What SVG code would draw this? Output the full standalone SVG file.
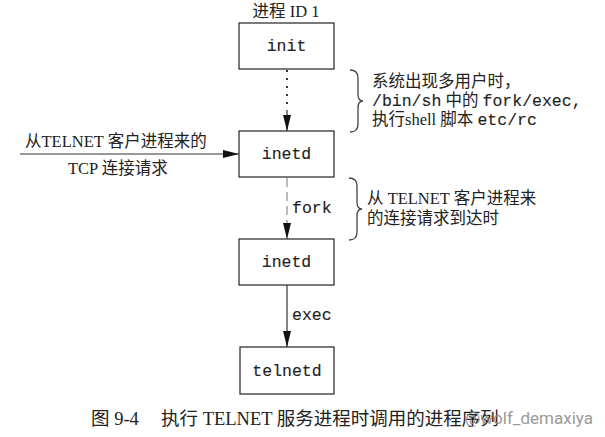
<svg xmlns="http://www.w3.org/2000/svg" width="605" height="437" viewBox="0 0 605 437">
<style>
.box{fill:#fff;stroke:#333;stroke-width:1.3}
.mono{font-family:"Liberation Mono","DejaVu Sans Mono",monospace;font-size:16.5px;fill:#222;stroke:#222;stroke-width:0.12}
.txt{font-family:"Liberation Serif","Noto Sans CJK SC",serif;font-size:16.5px;fill:#222}
.cap{font-family:"Liberation Serif","Noto Sans CJK SC",serif;font-size:18.5px;fill:#222}
.ln{stroke:#333;stroke-width:1.2;fill:none}
.brace{stroke:#444;stroke-width:1.3;fill:none}
</style>
<defs>
<marker id="ahv" markerWidth="16" markerHeight="8" refX="16" refY="4" orient="auto" markerUnits="userSpaceOnUse" viewBox="0 0 16 8" preserveAspectRatio="none">
<path d="M0,0 L16,4 L0,8 Z" fill="#111"/>
</marker>
</defs>
<text class="txt" x="286" y="17" text-anchor="middle">进程 ID 1</text>
<g id="connectors">
<line x1="287" y1="70" x2="287" y2="108" stroke="#333" stroke-width="2" stroke-dasharray="2 6"/>
<line x1="287" y1="110" x2="287" y2="131" class="ln" marker-end="url(#ahv)"/>
<line x1="287" y1="178" x2="287" y2="239" stroke="#777" stroke-width="1" stroke-dasharray="9 5" marker-end="url(#ahv)"/>
<line x1="287" y1="285" x2="287" y2="347" class="ln" marker-end="url(#ahv)"/>
<line x1="20" y1="154" x2="239" y2="154" class="ln" marker-end="url(#ahv)"/>
<text class="mono" x="292" y="213">fork</text>
<text class="mono" x="292" y="320">exec</text>
<text class="txt" x="25" y="147">从TELNET 客户进程来的</text>
<text class="txt" x="68" y="174">TCP 连接请求</text>
</g>
<g id="init">
<rect class="box" x="239" y="23" width="95" height="46"/>
<text class="mono" x="286.5" y="51" text-anchor="middle">init</text>
</g>
<g id="inetd1">
<rect class="box" x="239" y="131" width="95" height="46"/>
<text class="mono" x="286.5" y="159" text-anchor="middle">inetd</text>
</g>
<g id="inetd2">
<rect class="box" x="239" y="239" width="95" height="46"/>
<text class="mono" x="286.5" y="267" text-anchor="middle">inetd</text>
</g>
<g id="telnetd">
<rect class="box" x="240" y="347" width="94" height="47"/>
<text class="mono" x="287" y="376" text-anchor="middle">telnetd</text>
</g>
<g id="note1">
<path class="brace" d="M350,70 Q358,70 358,78 L358,94 Q358,101 363,101 Q358,101 358,108 L358,124 Q358,132 350,132"/>
<text class="txt" x="372" y="87">系统出现多用户时，</text>
<text x="372" y="106"><tspan class="mono">/bin/sh</tspan><tspan class="txt"> 中的 </tspan><tspan class="mono">fork/exec,</tspan></text>
<text x="372" y="125"><tspan class="txt">执行shell 脚本 </tspan><tspan class="mono">etc/rc</tspan></text>
</g>
<g id="note2">
<path class="brace" d="M349,178 Q357,178 357,186 L357,202 Q357,209 362,209 Q357,209 357,216 L357,232 Q357,240 349,240"/>
<text class="txt" x="367" y="204">从 TELNET 客户进程来</text>
<text class="txt" x="367" y="224">的连接请求到达时</text>
</g>
<text class="cap" x="91" y="425">图 9-4</text>
<text class="cap" x="161" y="425">执行 TELNET 服务进程时调用的进程序列</text>
<text x="593" y="424" text-anchor="end" font-family="Roboto,'Noto Sans',sans-serif" font-size="17" fill="#8a8a8a" opacity="0.85">@wolf_demaxiya</text>
</svg>
